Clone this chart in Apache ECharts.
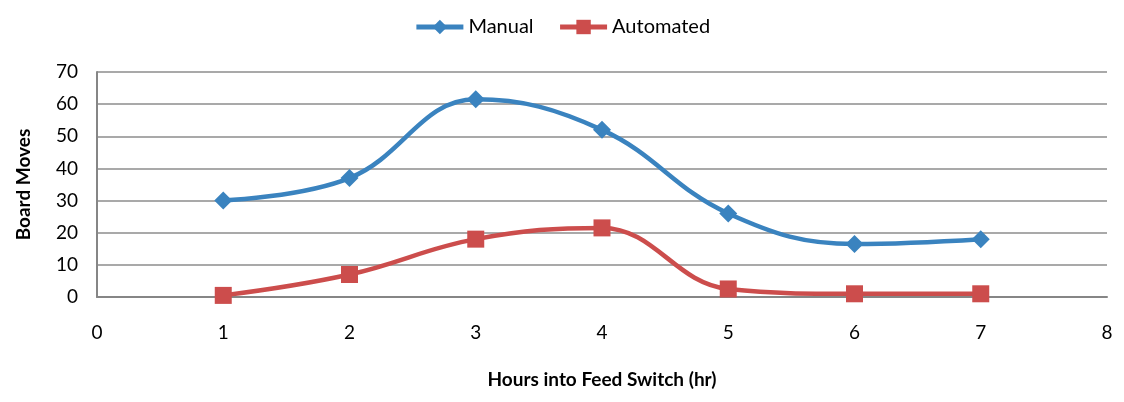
<!DOCTYPE html>
<html><head><meta charset="utf-8">
<script src="https://cdn.jsdelivr.net/npm/echarts@6/dist/echarts.min.js"></script>
<style>html,body{margin:0;padding:0;background:#fff}#c{width:1124px;height:402px}</style>
</head><body><div id="c"></div>
<script>
var hours = [1, 2, 3, 4, 5, 6, 7];
var manual = [30, 37, 61.5, 52, 26, 16.5, 18];
var automated = [0.5, 7, 18, 21.5, 2.5, 1, 1];
var xTitle = 'Hours into Feed Switch (hr)';
var yTitle = 'Board Moves';

function pairs(xs, ys){ return xs.map(function(x,i){ return [x, ys[i]]; }); }
var font = 'Lato, "Open Sans", sans-serif';
var chart = echarts.init(document.getElementById('c'));
chart.setOption({
  animation: false,
  textStyle: {fontFamily: font},
  legend: {
    top: 12, left: 'center', itemWidth: 47, itemHeight: 18, itemGap: 24,
    textStyle: {fontSize: 20, color: '#000', fontFamily: font},
    lineStyle: {width: 5},
    data: ['Manual', 'Automated']
  },
  grid: {left: 97, right: 17, top: 72, bottom: 105, containLabel: false},
  xAxis: {
    type: 'value', min: 0, max: 8, interval: 1,
    name: xTitle, nameLocation: 'middle', nameGap: 73,
    nameTextStyle: {fontSize: 19, fontWeight: 'bold', color: '#000', fontFamily: font},
    axisLine: {show: true, lineStyle: {color: '#868686', width: 2}},
    axisTick: {show: false},
    axisLabel: {fontSize: 19, color: '#000', margin: 26, fontFamily: font},
    splitLine: {show: false}
  },
  yAxis: {
    type: 'value', min: 0, max: 70, interval: 10,
    name: yTitle, nameLocation: 'middle', nameGap: 64, nameRotate: 90,
    nameTextStyle: {fontSize: 19, fontWeight: 'bold', color: '#000', fontFamily: font},
    axisLine: {show: true, lineStyle: {color: '#868686', width: 2}},
    axisTick: {show: false},
    axisLabel: {fontSize: 19, color: '#000', margin: 19, fontFamily: font},
    splitLine: {show: true, lineStyle: {color: '#8c8c8c', width: 1.5}}
  },
  series: [
    {name: 'Manual', type: 'line', data: pairs(hours, manual), smooth: 0.4,
     symbol: 'diamond', symbolSize: 18,
     itemStyle: {color: '#3a83bf'}, lineStyle: {width: 4.5, color: '#3a83bf'}},
    {name: 'Automated', type: 'line', data: pairs(hours, automated), smooth: 0.4,
     symbol: 'rect', symbolSize: 17,
     itemStyle: {color: '#cc4d4c'}, lineStyle: {width: 4.5, color: '#cc4d4c'}}
  ]
});
</script></body></html>
